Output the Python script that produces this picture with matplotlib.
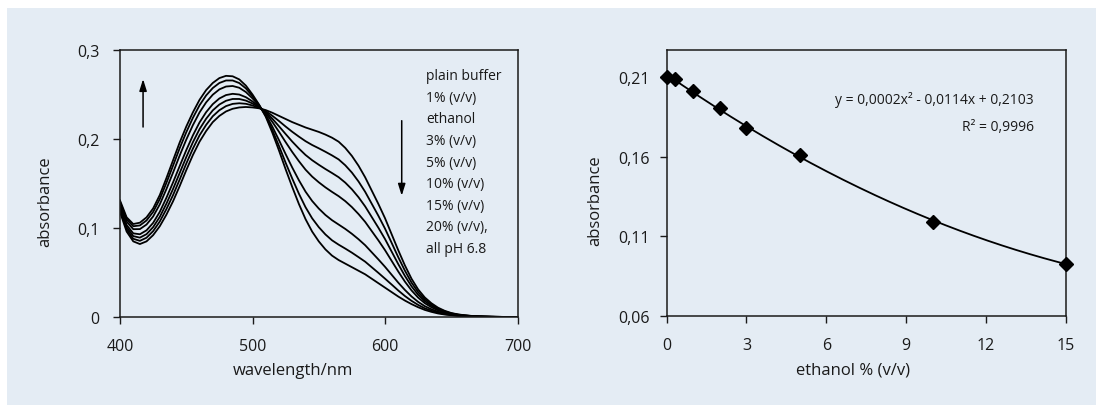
import numpy as np
import matplotlib
matplotlib.use("Agg")
import matplotlib.pyplot as plt
from matplotlib.patches import Rectangle

plt.rcParams['font.family'] = ['Open Sans', 'DejaVu Sans']

BG = '#e4ecf4'
INK = '#1a1a1a'

# ---- absorption spectra (wavelength in nm, 5 nm steps) ----
wavelength = np.arange(400, 701, 5)

abs_buffer = [0.118, 0.096, 0.085, 0.082, 0.085, 0.092, 0.102, 0.115, 0.130, 0.147,
              0.165, 0.182, 0.197, 0.209, 0.219, 0.226, 0.231, 0.234, 0.2355, 0.236,
              0.2355, 0.2345, 0.2325, 0.2295, 0.226, 0.2225, 0.219, 0.216, 0.213, 0.2105,
              0.208, 0.205, 0.2015, 0.197, 0.190, 0.181, 0.170, 0.157, 0.142, 0.127,
              0.111, 0.093, 0.075, 0.058, 0.043, 0.031, 0.022, 0.0155, 0.0105, 0.007,
              0.0045, 0.003, 0.002, 0.0013, 0.0008, 0.0005, 0.0003, 0.0002, 0.0001, 0.0, 0.0]
abs_1pct = [0.1200, 0.0984, 0.0879, 0.0856, 0.0891, 0.0965, 0.1073, 0.1212, 0.1369, 0.1544,
            0.1724, 0.1892, 0.2041, 0.2159, 0.2256, 0.2324, 0.2370, 0.2395, 0.2402, 0.2396,
            0.2377, 0.2351, 0.2314, 0.2261, 0.2202, 0.2140, 0.2081, 0.2027, 0.1976, 0.1933,
            0.1896, 0.1857, 0.1816, 0.1771, 0.1705, 0.1623, 0.1523, 0.1407, 0.1272, 0.1137,
            0.0993, 0.0833, 0.0672, 0.0521, 0.0387, 0.0280, 0.0199, 0.0140, 0.0095, 0.0064,
            0.0041, 0.0027, 0.0018, 0.0012, 0.0007, 0.0005, 0.0003, 0.0002, 0.0001, 0.0, 0.0]
abs_3pct = [0.1219, 0.1008, 0.0909, 0.0892, 0.0931, 0.1010, 0.1125, 0.1273, 0.1438, 0.1617,
            0.1797, 0.1964, 0.2111, 0.2228, 0.2322, 0.2388, 0.2430, 0.2450, 0.2450, 0.2432,
            0.2399, 0.2357, 0.2303, 0.2228, 0.2143, 0.2056, 0.1971, 0.1893, 0.1821, 0.1762,
            0.1711, 0.1663, 0.1618, 0.1571, 0.1510, 0.1435, 0.1346, 0.1243, 0.1123, 0.1003,
            0.0876, 0.0735, 0.0594, 0.0462, 0.0345, 0.0250, 0.0178, 0.0126, 0.0086, 0.0057,
            0.0038, 0.0025, 0.0017, 0.0011, 0.0007, 0.0004, 0.0003, 0.0002, 0.0001, 0.0, 0.0]
abs_5pct = [0.1240, 0.1034, 0.0940, 0.0930, 0.0974, 0.1058, 0.1181, 0.1339, 0.1512, 0.1695,
            0.1875, 0.2041, 0.2186, 0.2302, 0.2392, 0.2456, 0.2494, 0.2508, 0.2500, 0.2470,
            0.2422, 0.2363, 0.2291, 0.2192, 0.2081, 0.1965, 0.1854, 0.1751, 0.1656, 0.1578,
            0.1514, 0.1457, 0.1406, 0.1358, 0.1302, 0.1235, 0.1157, 0.1069, 0.0965, 0.0861,
            0.0751, 0.0631, 0.0511, 0.0398, 0.0299, 0.0218, 0.0156, 0.0110, 0.0075, 0.0051,
            0.0034, 0.0022, 0.0015, 0.0010, 0.0006, 0.0004, 0.0003, 0.0002, 0.0001, 0.0, 0.0]
abs_10pct = [0.1271, 0.1072, 0.0987, 0.0988, 0.1039, 0.1130, 0.1265, 0.1437, 0.1622, 0.1813,
             0.1993, 0.2156, 0.2299, 0.2412, 0.2498, 0.2558, 0.2590, 0.2596, 0.2576, 0.2528,
             0.2457, 0.2373, 0.2273, 0.2138, 0.1987, 0.1830, 0.1679, 0.1537, 0.1409, 0.1304,
             0.1219, 0.1147, 0.1088, 0.1039, 0.0990, 0.0935, 0.0874, 0.0807, 0.0727, 0.0647,
             0.0564, 0.0475, 0.0386, 0.0304, 0.0231, 0.0170, 0.0122, 0.0087, 0.0060, 0.0041,
             0.0028, 0.0018, 0.0012, 0.0008, 0.0005, 0.0004, 0.0002, 0.0001, 0.0001, 0.0, 0.0]
abs_15pct = [0.1293, 0.1099, 0.1020, 0.1029, 0.1085, 0.1181, 0.1325, 0.1507, 0.1700, 0.1896,
             0.2076, 0.2238, 0.2379, 0.2490, 0.2573, 0.2630, 0.2658, 0.2658, 0.2629, 0.2569,
             0.2481, 0.2380, 0.2260, 0.2099, 0.1921, 0.1733, 0.1555, 0.1386, 0.1234, 0.1109,
             0.1010, 0.0928, 0.0862, 0.0813, 0.0769, 0.0723, 0.0673, 0.0622, 0.0559, 0.0496,
             0.0431, 0.0365, 0.0298, 0.0236, 0.0182, 0.0136, 0.0098, 0.0071, 0.0048, 0.0033,
             0.0023, 0.0015, 0.0010, 0.0007, 0.0005, 0.0003, 0.0002, 0.0001, 0.0001, 0.0, 0.0]
abs_20pct = [0.131, 0.112, 0.1045, 0.106, 0.112, 0.122, 0.137, 0.156, 0.176, 0.196,
             0.214, 0.230, 0.244, 0.255, 0.263, 0.2685, 0.271, 0.2705, 0.267, 0.260,
             0.250, 0.2385, 0.225, 0.207, 0.187, 0.166, 0.146, 0.127, 0.110, 0.096,
             0.085, 0.076, 0.069, 0.064, 0.060, 0.056, 0.052, 0.048, 0.043, 0.038,
             0.033, 0.028, 0.023, 0.0185, 0.0145, 0.011, 0.008, 0.0058, 0.004, 0.0028,
             0.002, 0.0013, 0.0009, 0.0006, 0.0004, 0.0003, 0.0002, 0.0001, 0.0001, 0.0, 0.0]

spectrum_labels = ["plain buffer", "1% (v/v)", "ethanol", "3% (v/v)", "5% (v/v)",
                   "10% (v/v)", "15% (v/v)", "20% (v/v),", "all pH 6.8"]
wl_ticks = [400, 500, 600, 700]
spec_yticks = [0.0, 0.1, 0.2, 0.3]
spec_yticklabels = ["0", "0,1", "0,2", "0,3"]

# ---- absorbance versus ethanol content ----
ethanol_pct = [0, 0.33, 1, 2, 3, 5, 10, 15]
absorbance = [0.2100, 0.2086, 0.2012, 0.1904, 0.1778, 0.1609, 0.1192, 0.0929]
eth_xticks = [0, 3, 6, 9, 12, 15]
eth_yticks = [0.06, 0.11, 0.16, 0.21]
eth_yticklabels = ["0,06", "0,11", "0,16", "0,21"]
fit_text = "y = 0,0002x\u00b2 - 0,0114x + 0,2103"
r2_text = "R\u00b2 = 0,9996"

fig = plt.figure(figsize=(10.96, 4.06), dpi=100, facecolor='white')
panel = Rectangle((7 / 1096, 0), 1, 1 - 9 / 406, transform=fig.transFigure,
                  facecolor=BG, edgecolor='none', zorder=-10)
fig.add_artist(panel)

ax1 = fig.add_axes([0.1095, 0.2167, 0.3627, 0.6576])
ax2 = fig.add_axes([0.6082, 0.2192, 0.3644, 0.6552])

for ax in (ax1, ax2):
    ax.set_facecolor('none')
    for sp in ax.spines.values():
        sp.set_color(INK)
        sp.set_linewidth(1.1)
    ax.tick_params(direction='out', length=5, width=1.0, color=INK,
                   labelcolor=INK, labelsize=11.5)


def place_labels(ax, xlab, ylab, xpos, ypos):
    ax.set_xlabel(xlab, fontsize=12, color=INK)
    ax.set_ylabel(ylab, fontsize=12, color=INK)
    ax.xaxis.label.set_verticalalignment('center')
    ax.yaxis.label.set_verticalalignment('center')
    ax.xaxis.set_label_coords(*xpos)
    ax.yaxis.set_label_coords(*ypos)


# left: spectra
for series in (abs_buffer, abs_1pct, abs_3pct, abs_5pct, abs_10pct, abs_15pct, abs_20pct):
    ax1.plot(wavelength, series, color='black', lw=1.3, solid_joinstyle='round')
ax1.set_xlim(400, 700)
ax1.set_ylim(0, 0.3)
ax1.set_xticks(wl_ticks)
ax1.set_yticks(spec_yticks)
ax1.set_yticklabels(spec_yticklabels)
ax1.tick_params(axis='x', pad=10)
ax1.tick_params(axis='y', pad=10)
place_labels(ax1, "wavelength/nm", "absorbance", (0.435, -0.1985), (-0.189, 0.436))

for i, lab in enumerate(spectrum_labels):
    ax1.text(0.770, (318 - (76.7 + 21.6 * i)) / 267, lab, transform=ax1.transAxes,
             fontsize=10, color=INK, ha='left', va='center')

arrow_kw = dict(arrowstyle='-|>,head_length=0.7,head_width=0.22', color='black', lw=1.1,
                shrinkA=0, shrinkB=0)
ax1.annotate("", xy=(417.4, 0.2674), xytext=(417.4, 0.2135), arrowprops=arrow_kw)
ax1.annotate("", xy=(612.6, 0.1363), xytext=(612.6, 0.2206), arrowprops=arrow_kw)

# right: absorbance vs ethanol with quadratic trend line
coef = np.polyfit(ethanol_pct, absorbance, 2)
xx = np.linspace(0, 15, 200)
ax2.plot(xx, np.polyval(coef, xx), color='black', lw=1.3)
ax2.plot(ethanol_pct, absorbance, linestyle='none', marker='D', markersize=7.5,
         color='black', clip_on=False, zorder=3)
ax2.set_xlim(0, 15)
ax2.set_ylim(0.06, 0.227)
ax2.set_xticks(eth_xticks)
ax2.set_yticks(eth_yticks)
ax2.set_yticklabels(eth_yticklabels)
ax2.tick_params(axis='x', pad=10)
ax2.tick_params(axis='y', pad=7)
place_labels(ax2, "ethanol % (v/v)", "absorbance", (0.467, -0.2017), (-0.179, 0.436))
ax2.text(0.919, 0.815, fit_text, transform=ax2.transAxes, ha='right', va='center',
         fontsize=10, color=INK)
ax2.text(0.919, 0.711, r2_text, transform=ax2.transAxes, ha='right', va='center',
         fontsize=10, color=INK)

fig.savefig("out.png", dpi=100, facecolor=fig.get_facecolor())
